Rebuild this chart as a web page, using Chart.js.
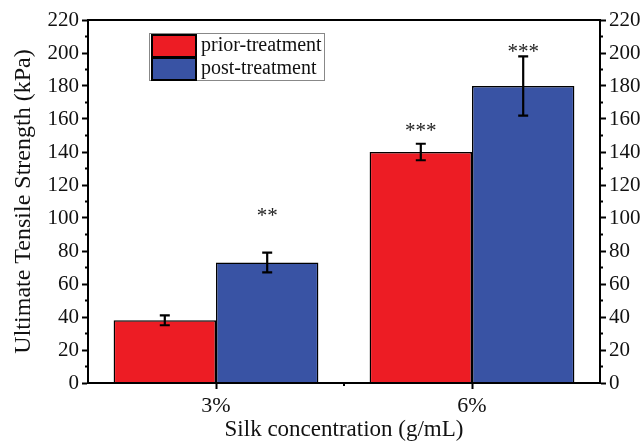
<!DOCTYPE html>
<html>
<head>
<meta charset="utf-8">
<script src="https://cdn.jsdelivr.net/npm/chart.js"></script>
<style>
  html, body { margin: 0; padding: 0; background: #fff; }
  #wrap { width: 644px; height: 444px; }
</style>
</head>
<body>
<div id="wrap"><canvas id="chart" width="644" height="444"></canvas></div>
<script>
const categories = ["3%", "6%"];
const priorValues = [38, 140];
const priorErrors = [3, 5];
const postValues = [73, 180];
const postErrors = [6, 18];
const priorStars = ["", "***"];
const postStars = ["**", "***"];
// height (kPa) where the significance marks sit
const priorStarLevel = [null, 154];
const postStarLevel = [103, 202];

const FONT = "'Liberation Serif', 'Times New Roman', serif";
const RED = "#ed1c24";
const BLUE = "#3953a4";

const errorsByDataset = [priorErrors, postErrors];
const starsByDataset = [priorStars, postStars];
const starLevelByDataset = [priorStarLevel, postStarLevel];

const extras = {
  id: "extras",
  afterDatasetsDraw(chart) {
    const c = chart.ctx;
    const y = chart.scales.y;
    const x = chart.scales.x;
    const area = chart.chartArea;

    // error bars + stars
    chart.data.datasets.forEach((ds, di) => {
      const meta = chart.getDatasetMeta(di);
      meta.data.forEach((bar, i) => {
        const v = ds.data[i];
        const e = errorsByDataset[di][i];
        const top = y.getPixelForValue(v + e);
        const bot = y.getPixelForValue(v - e);
        c.save();
        c.strokeStyle = "#000";
        c.lineWidth = 2.2;
        c.beginPath();
        c.moveTo(bar.x, top); c.lineTo(bar.x, bot);
        c.moveTo(bar.x - 5, top); c.lineTo(bar.x + 5, top);
        c.moveTo(bar.x - 5, bot); c.lineTo(bar.x + 5, bot);
        c.stroke();
        const s = starsByDataset[di][i];
        if (s) {
          c.fillStyle = "#222";
          c.font = "21px " + FONT;
          c.textAlign = "center";
          c.textBaseline = "middle";
          c.fillText(s, bar.x, y.getPixelForValue(starLevelByDataset[di][i]) + 3);
        }
        c.restore();
      });
    });

    // minor ticks
    c.save();
    c.strokeStyle = "#000";
    c.lineWidth = 2;
    c.beginPath();
    for (let v = 10; v < 220; v += 20) {
      const py = y.getPixelForValue(v);
      c.moveTo(area.left, py); c.lineTo(area.left - 3, py);
      c.moveTo(area.right, py); c.lineTo(area.right + 3, py);
    }
    for (let i = 0; i <= categories.length; i++) {
      const px = x.getPixelForValue(i - 0.5);
      if (px > area.left + 1 && px < area.right - 1) {
        c.moveTo(px, area.bottom); c.lineTo(px, area.bottom + 3);
      }
    }
    c.stroke();

    // frame
    c.lineWidth = 2;
    c.strokeRect(area.left, area.top, area.right - area.left, area.bottom - area.top);
    c.restore();

    // legend box
    const lx = area.left + 61, ly = area.top + 13;
    const sw = 44, sh = 22;
    c.save();
    c.strokeStyle = "#888";
    c.lineWidth = 1;
    c.fillStyle = "#fff";
    c.fillRect(lx, ly, 175, 47);
    c.strokeRect(lx + 0.5, ly + 0.5, 175, 47);
    chart.data.datasets.forEach((ds, di) => {
      const ry = ly + 2 + di * 23;
      c.fillStyle = ds.backgroundColor;
      c.fillRect(lx + 3, ry, sw, sh);
      c.strokeStyle = "#000";
      c.lineWidth = 2;
      c.strokeRect(lx + 3, ry, sw, sh);
      c.fillStyle = "#111";
      c.font = "20px " + FONT;
      c.textAlign = "left";
      c.textBaseline = "middle";
      c.fillText(ds.label, lx + sw + 8, ry + sh / 2);
    });
    c.restore();
  }
};

const tickFont = { family: FONT, size: 21 };

new Chart(document.getElementById("chart"), {
  type: "bar",
  data: {
    labels: categories,
    datasets: [
      { label: "prior-treatment", data: priorValues, backgroundColor: RED, borderColor: "#000", borderWidth: 1.5,
        categoryPercentage: 0.8, barPercentage: 1 },
      { label: "post-treatment", data: postValues, backgroundColor: BLUE, borderColor: "#000", borderWidth: 1.5,
        categoryPercentage: 0.8, barPercentage: 1 }
    ]
  },
  options: {
    responsive: false,
    animation: false,
    layout: { padding: { top: 20, left: 0, right: 0, bottom: 0 } },
    plugins: { legend: { display: false }, tooltip: { enabled: false } },
    scales: {
      x: {
        offset: true,
        grid: { offset: false, drawOnChartArea: false, drawTicks: true, tickLength: 6, tickWidth: 2, tickColor: "#000" },
        border: { color: "#000", width: 2 },
        ticks: { color: "#111", font: { family: FONT, size: 22 }, padding: 4 },
        title: { display: true, text: "Silk concentration (g/mL)", color: "#111", font: { family: FONT, size: 23 }, padding: { top: 5, bottom: 0 } },
        afterFit(s) { s.height = 61; }
      },
      y: {
        min: 0, max: 220,
        ticks: { stepSize: 20, color: "#111", font: tickFont, padding: 3 },
        grid: { drawOnChartArea: false, tickLength: 6, tickWidth: 2, tickColor: "#000" },
        border: { color: "#000", width: 2 },
        title: { display: true, text: "Ultimate Tensile Strength (kPa)", color: "#111", font: { family: FONT, size: 24 }, padding: { top: 9, bottom: 0 } },
        afterFit(s) { s.width = 88; }
      },
      y2: {
        position: "right",
        min: 0, max: 220,
        ticks: { stepSize: 20, color: "#111", font: tickFont, padding: 3 },
        grid: { drawOnChartArea: false, tickLength: 6, tickWidth: 2, tickColor: "#000" },
        border: { color: "#000", width: 2 },
        afterFit(s) { s.width = 44; }
      }
    }
  },
  plugins: [extras]
});
</script>
</body>
</html>
